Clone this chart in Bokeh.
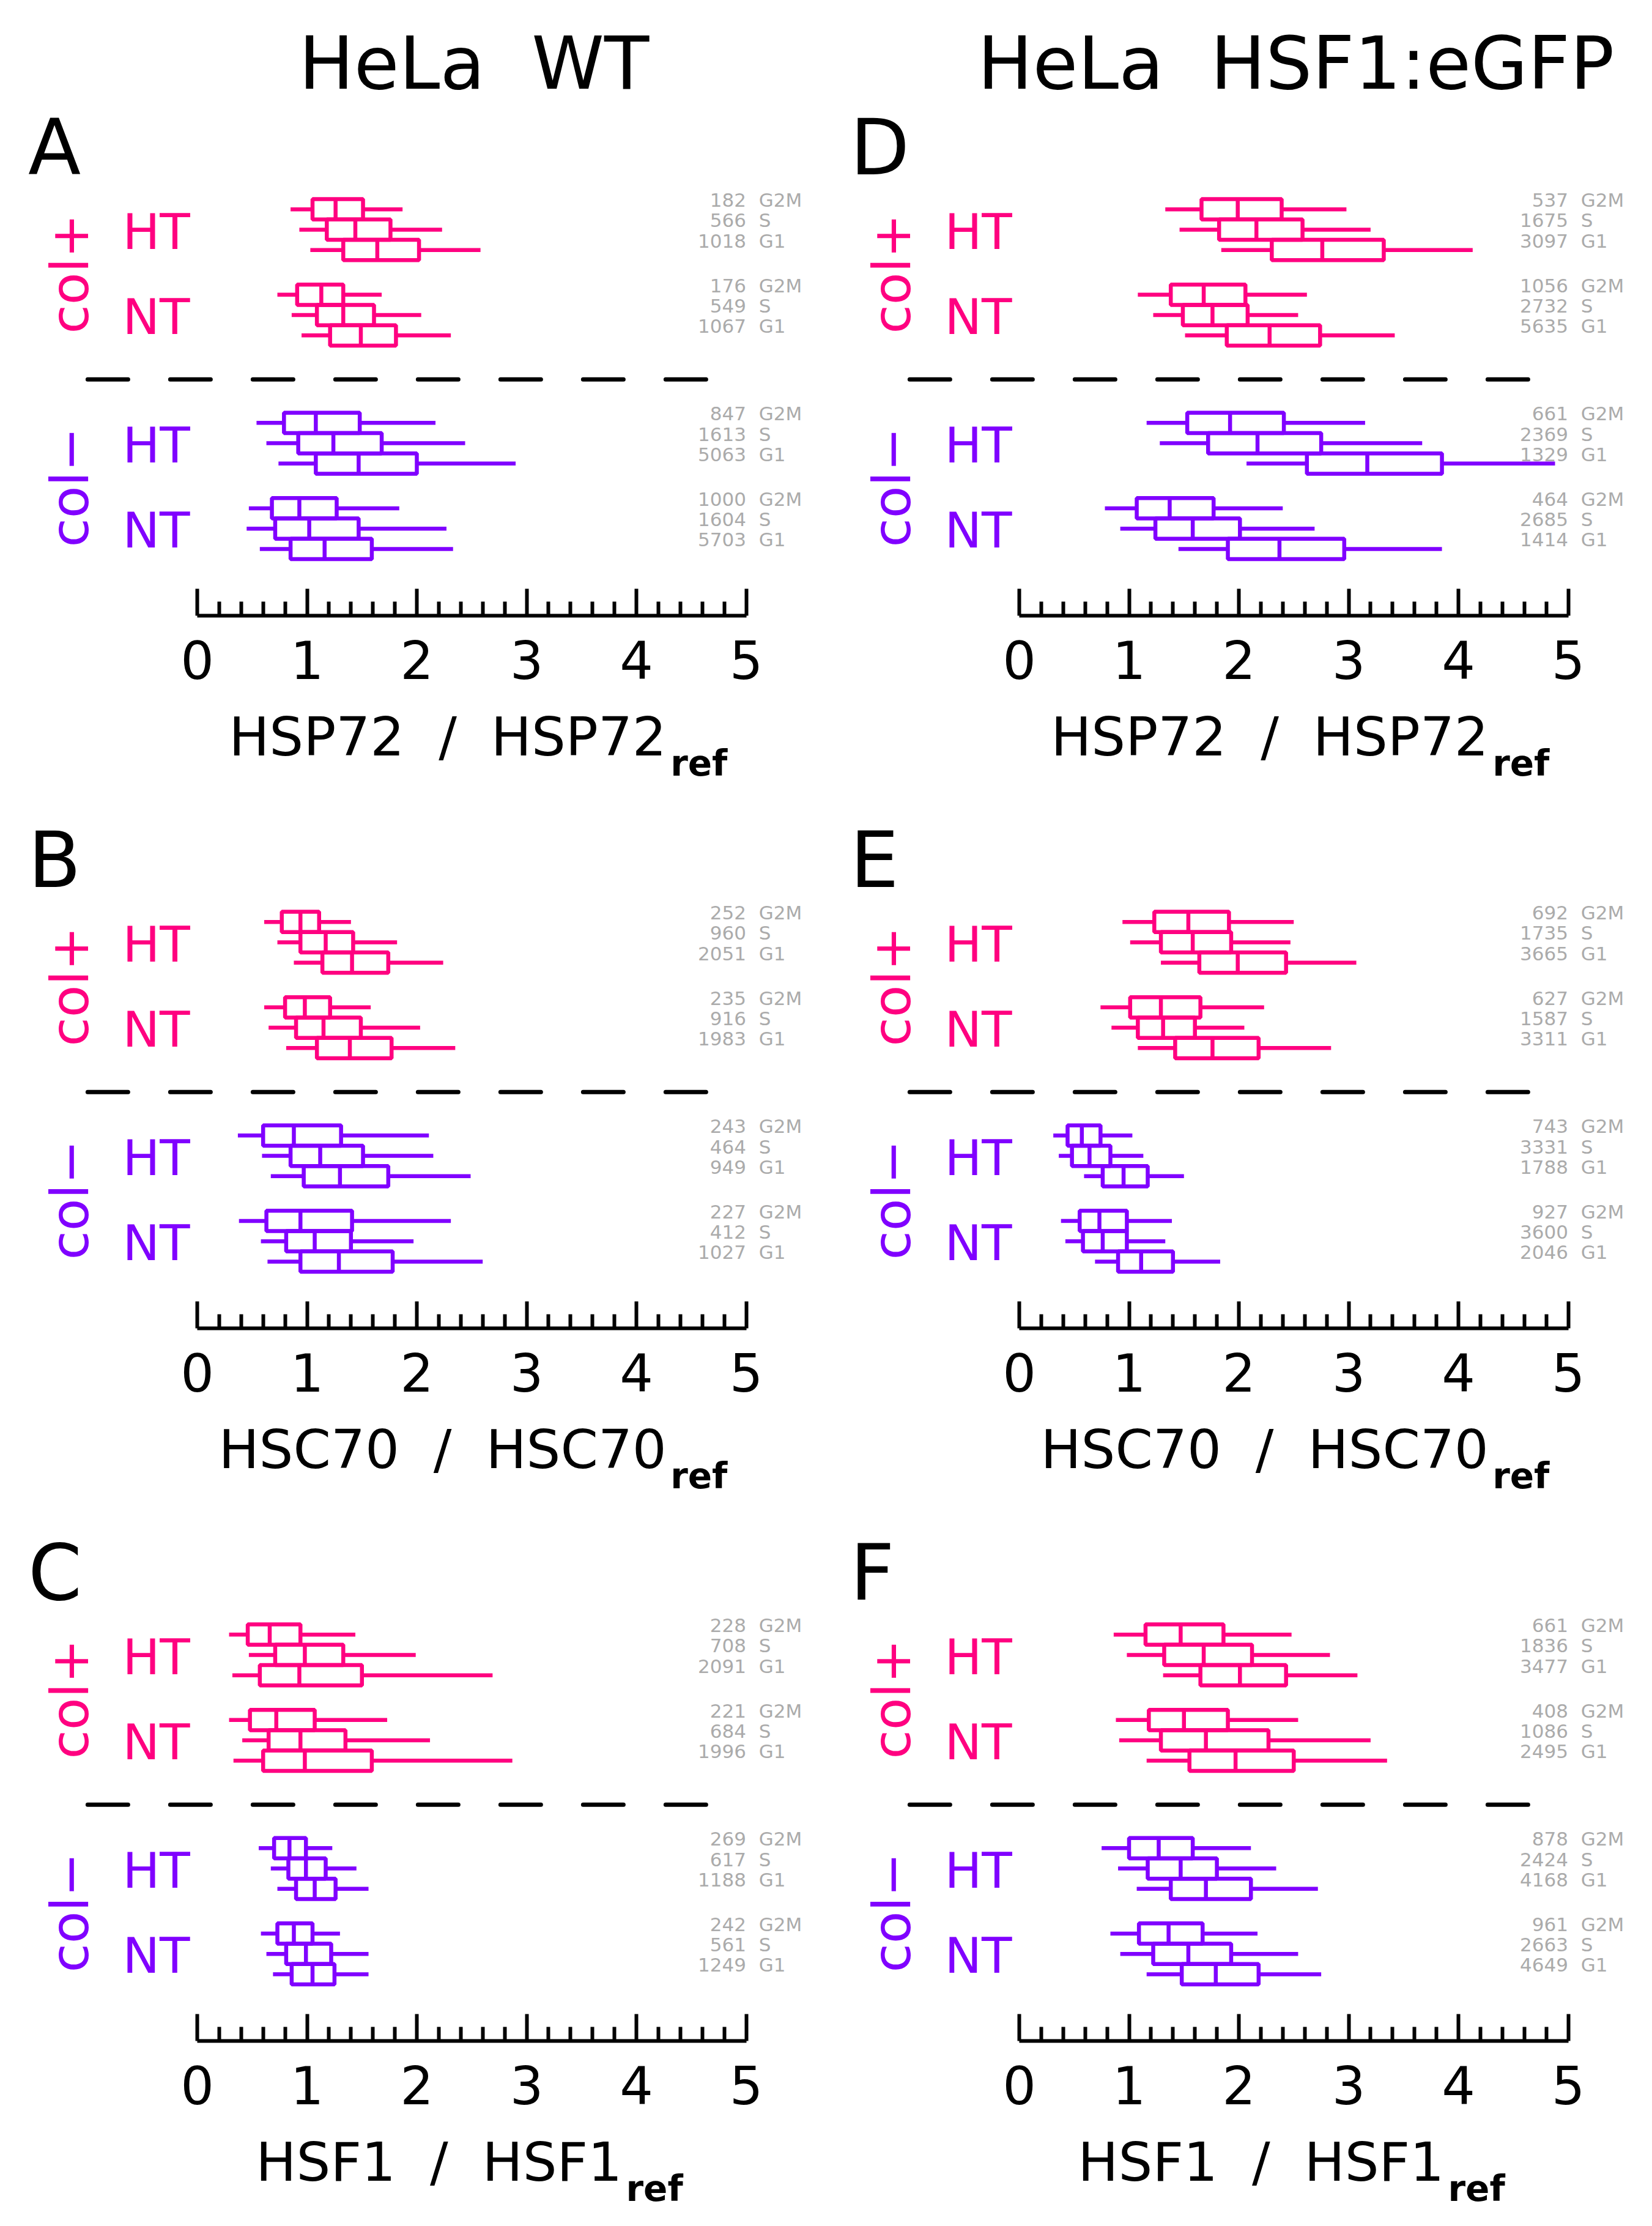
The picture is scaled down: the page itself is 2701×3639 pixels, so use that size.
import numpy as np
from bokeh.plotting import figure
from bokeh.models import ColumnDataSource, Range1d, LinearAxis, FixedTicker
from bokeh.layouts import gridplot
from bokeh.embed import file_html
from bokeh.resources import INLINE
from bokeh.core.properties import value

# ---------------- data ----------------
cell_lines = ["HeLa \u00a0WT", "HeLa \u00a0HSF1:eGFP"]
proteins = ["HSP72", "HSC70", "HSF1"]
panel_letters = [["A", "D"], ["B", "E"], ["C", "F"]]
treatments = ["col+", "col\u2212"]
conditions = ["HT", "NT"]
phases = ["G2M", "S", "G1"]
x_ticks = [0, 1, 2, 3, 4, 5]
x_minor_ticks = [0.2, 0.4, 0.6, 0.8, 1.2, 1.4, 1.6, 1.8, 2.2, 2.4, 2.6, 2.8,
                 3.2, 3.4, 3.6, 3.8, 4.2, 4.4, 4.6, 4.8]

# order of 12 entries: col+ HT (G2M,S,G1), col+ NT, col- HT, col- NT
A_low = [0.85, 0.93, 1.03, 0.73, 0.86, 0.95, 0.54, 0.63, 0.74, 0.47, 0.45, 0.57]
A_q1 = [1.05, 1.18, 1.33, 0.91, 1.09, 1.21, 0.79, 0.92, 1.08, 0.68, 0.71, 0.85]
A_med = [1.26, 1.44, 1.64, 1.13, 1.33, 1.49, 1.08, 1.24, 1.47, 0.93, 1.02, 1.16]
A_q3 = [1.51, 1.76, 2.02, 1.33, 1.61, 1.81, 1.48, 1.68, 2.00, 1.27, 1.47, 1.59]
A_high = [1.87, 2.23, 2.58, 1.68, 2.04, 2.31, 2.17, 2.44, 2.90, 1.84, 2.27, 2.33]
A_n = [182, 566, 1018, 176, 549, 1067, 847, 1613, 5063, 1000, 1604, 5703]

B_low = [0.61, 0.73, 0.88, 0.61, 0.65, 0.81, 0.37, 0.59, 0.67, 0.38, 0.58, 0.64]
B_q1 = [0.77, 0.94, 1.14, 0.80, 0.90, 1.09, 0.60, 0.85, 0.97, 0.63, 0.81, 0.94]
B_med = [0.94, 1.17, 1.41, 0.98, 1.15, 1.39, 0.88, 1.12, 1.30, 0.94, 1.07, 1.29]
B_q3 = [1.11, 1.42, 1.74, 1.21, 1.49, 1.77, 1.31, 1.51, 1.74, 1.41, 1.40, 1.78]
B_high = [1.40, 1.82, 2.24, 1.58, 2.03, 2.35, 2.11, 2.15, 2.49, 2.31, 1.97, 2.60]
B_n = [252, 960, 2051, 235, 916, 1983, 243, 464, 949, 227, 412, 1027]

C_low = [0.29, 0.47, 0.32, 0.29, 0.41, 0.33, 0.56, 0.67, 0.73, 0.58, 0.63, 0.69]
C_q1 = [0.46, 0.71, 0.57, 0.48, 0.65, 0.60, 0.70, 0.83, 0.90, 0.73, 0.81, 0.86]
C_med = [0.66, 0.98, 0.93, 0.72, 0.94, 0.98, 0.84, 0.99, 1.07, 0.88, 0.99, 1.05]
C_q3 = [0.94, 1.33, 1.50, 1.07, 1.35, 1.59, 0.99, 1.17, 1.26, 1.05, 1.22, 1.25]
C_high = [1.44, 1.99, 2.69, 1.73, 2.12, 2.87, 1.23, 1.45, 1.56, 1.30, 1.56, 1.56]
C_n = [228, 708, 2091, 221, 684, 1996, 269, 617, 1188, 242, 561, 1249]

D_low = [1.33, 1.46, 1.84, 1.08, 1.22, 1.51, 1.16, 1.28, 2.07, 0.78, 0.92, 1.45]
D_q1 = [1.66, 1.82, 2.30, 1.38, 1.49, 1.89, 1.53, 1.72, 2.62, 1.07, 1.24, 1.90]
D_med = [1.99, 2.16, 2.76, 1.68, 1.76, 2.28, 1.92, 2.17, 3.17, 1.37, 1.58, 2.37]
D_q3 = [2.39, 2.58, 3.32, 2.06, 2.08, 2.74, 2.41, 2.75, 3.85, 1.77, 2.01, 2.96]
D_high = [2.98, 3.20, 4.13, 2.62, 2.54, 3.42, 3.15, 3.67, 4.88, 2.40, 2.69, 3.85]
D_n = [537, 1675, 3097, 1056, 2732, 5635, 661, 2369, 1329, 464, 2685, 1414]

E_low = [0.94, 1.01, 1.29, 0.74, 0.84, 1.08, 0.31, 0.36, 0.59, 0.38, 0.42, 0.69]
E_q1 = [1.23, 1.29, 1.64, 1.01, 1.08, 1.42, 0.44, 0.48, 0.76, 0.55, 0.58, 0.90]
E_med = [1.54, 1.58, 1.99, 1.29, 1.31, 1.76, 0.57, 0.64, 0.95, 0.73, 0.76, 1.11]
E_q3 = [1.91, 1.93, 2.43, 1.65, 1.60, 2.18, 0.74, 0.83, 1.17, 0.98, 0.98, 1.40]
E_high = [2.50, 2.47, 3.07, 2.23, 2.05, 2.84, 1.03, 1.13, 1.50, 1.39, 1.33, 1.83]
E_n = [692, 1735, 3665, 627, 1587, 3311, 743, 3331, 1788, 927, 3600, 2046]

F_low = [0.86, 0.98, 1.31, 0.88, 0.91, 1.16, 0.75, 0.90, 1.07, 0.83, 0.92, 1.16]
F_q1 = [1.15, 1.32, 1.65, 1.18, 1.29, 1.55, 1.00, 1.17, 1.38, 1.09, 1.22, 1.48]
F_med = [1.47, 1.68, 2.01, 1.50, 1.70, 1.97, 1.27, 1.47, 1.70, 1.36, 1.54, 1.79]
F_q3 = [1.86, 2.12, 2.43, 1.90, 2.27, 2.50, 1.58, 1.80, 2.11, 1.67, 1.93, 2.18]
F_high = [2.48, 2.83, 3.08, 2.54, 3.20, 3.35, 2.11, 2.34, 2.72, 2.17, 2.54, 2.75]
F_n = [661, 1836, 3477, 408, 1086, 2495, 878, 2424, 4168, 961, 2663, 4649]

panels = {
    "A": (A_low, A_q1, A_med, A_q3, A_high, A_n),
    "B": (B_low, B_q1, B_med, B_q3, B_high, B_n),
    "C": (C_low, C_q1, C_med, C_q3, C_high, C_n),
    "D": (D_low, D_q1, D_med, D_q3, D_high, D_n),
    "E": (E_low, E_q1, E_med, E_q3, E_high, E_n),
    "F": (F_low, F_q1, F_med, F_q3, F_high, F_n),
}

# ---------------- layout / style ----------------
FONT = "DejaVu Sans"
TREAT_COLORS = ["#ff0080", "#8000ff"]
GRAY = "#ababab"
BOTTOM = 140
FRAME_HEIGHTS = [1006, 871, 871]
PANEL_HEIGHTS = [h + BOTTOM for h in FRAME_HEIGHTS]
LABEL_H = 294 - BOTTOM
FIG_W = 1344
PX_PER_X = 179.5
X0_PX = 322
ROW_PX = 33.25
Y_AXIS = 19.98
GROUP_BASE = [0.0, 4.2, 10.5, 14.7]     # col+HT, col+NT, col-HT, col-NT
SEP_Y = 8.36
LABEL_JUNCTION = {"HSP72": 4.275, "HSC70": 4.275, "HSF1": 3.87}
LABEL_BASE = 1230 - 1006 - BOTTOM
REF_BASE = 1265 - 1006 - BOTTOM
LW = 6.5
BASE_SHIFT = 0.30   # baseline correction (em)


def fy(y, size_px):
    return y - BASE_SHIFT * size_px / ROW_PX


def x_range():
    s = -X0_PX / PX_PER_X
    return Range1d(s, s + FIG_W / PX_PER_X)


def make_panel(row_i, col_i):
    letter = panel_letters[row_i][col_i]
    low, q1, med, q3, high, n = panels[letter]
    frame_h = FRAME_HEIGHTS[row_i]
    y_top = Y_AXIS - frame_h / ROW_PX

    p = figure(width=FIG_W, height=PANEL_HEIGHTS[row_i],
               x_range=x_range(), y_range=Range1d(Y_AXIS, y_top),
               output_backend="svg", toolbar_location=None,
               x_axis_location=None, y_axis_location=None,
               min_border_left=0, min_border_right=0, min_border_top=0,
               min_border_bottom=BOTTOM)
    p.outline_line_color = None
    p.grid.visible = False

    ax = LinearAxis(bounds=(0, 5), ticker=FixedTicker(ticks=x_ticks, minor_ticks=x_minor_ticks))
    ax.axis_line_width = 6
    ax.axis_line_color = "black"
    ax.major_tick_line_width = 6
    ax.minor_tick_line_width = 6
    ax.major_tick_line_color = "black"
    ax.minor_tick_line_color = "black"
    ax.major_tick_in = 44
    ax.major_tick_out = 0
    ax.minor_tick_in = 23
    ax.minor_tick_out = 0
    ax.major_label_text_font = FONT
    ax.major_label_text_font_size = "86px"
    ax.major_label_text_color = "black"
    ax.major_label_standoff = 40
    p.add_layout(ax, "below")

    ys, colors = [], []
    for g in range(4):
        for k in range(len(phases)):
            ys.append(GROUP_BASE[g] + k)
            colors.append(TREAT_COLORS[g // 2])
    ys = np.array(ys)
    src = ColumnDataSource(dict(y=ys, top=ys - 0.5, bottom=ys + 0.5, low=low, q1=q1,
                                med=med, q3=q3, high=high, color=colors,
                                n=[str(v) for v in n],
                                phase=phases * 4, ty=fy(ys - 0.17, 31)))

    p.segment(x0="low", x1="q1", y0="y", y1="y", source=src, line_color="color", line_width=LW)
    p.segment(x0="q3", x1="high", y0="y", y1="y", source=src, line_color="color", line_width=LW)
    p.quad(left="q1", right="q3", top="top", bottom="bottom", source=src,
           fill_color=None, line_color="color", line_width=LW)
    p.segment(x0="med", x1="med", y0="top", y1="bottom", source=src, line_color="color", line_width=LW)

    # cell counts
    p.text(x=5.0, y="ty", text="n", source=src, text_align="right", text_baseline="alphabetic",
           text_font=value(FONT), text_font_size=value("31px"), text_color=GRAY)
    p.text(x=5.115, y="ty", text="phase", source=src, text_align="left", text_baseline="alphabetic",
           text_font=value(FONT), text_font_size=value("31px"), text_color=GRAY)

    # separator
    p.segment(x0=[-0.998], x1=[4.65], y0=[SEP_Y], y1=[SEP_Y], line_color="black", line_width=7,
              line_dash="66 69", line_cap="round")

    # condition labels
    cond_src = ColumnDataSource(dict(
        x=[-0.68] * 4, y=[fy(b + 1.83, 81) for b in GROUP_BASE],
        text=conditions * 2, color=[TREAT_COLORS[0]] * 2 + [TREAT_COLORS[1]] * 2))
    p.text(x="x", y="y", text="text", source=cond_src, text_color="color",
           text_align="left", text_baseline="alphabetic",
           text_font=value(FONT), text_font_size=value("81px"))

    # treatment labels (rotated)
    tx = -1.02 - BASE_SHIFT * 86 / PX_PER_X
    tr_src = ColumnDataSource(dict(
        x=[tx, tx], y=[GROUP_BASE[0] + 3.17, GROUP_BASE[2] + 3.17],
        text=treatments, color=TREAT_COLORS))
    p.text(x="x", y="y", text="text", source=tr_src, text_color="color", angle=np.pi / 2,
           text_align="center", text_baseline="alphabetic",
           text_font=value(FONT), text_font_size=value("86px"))

    # panel letter
    p.text(x=[-1.54], y=[fy(-1.89, 126)], text=[letter], text_align="left",
           text_baseline="alphabetic", text_font=value(FONT),
           text_font_size=value("126px"), text_color="black")

    # column title
    if row_i == 0:
        p.text(x=[2.52], y=[fy(-6.094, 120)], text=[cell_lines[col_i]], text_align="center",
               text_baseline="alphabetic", text_font=value(FONT),
               text_font_size=value("120px"), text_color="black")
    return p


def make_label(row_i):
    protein = proteins[row_i]
    p = figure(width=FIG_W, height=LABEL_H, x_range=x_range(),
               y_range=Range1d(LABEL_H, 0),
               output_backend="svg", toolbar_location=None,
               x_axis_location=None, y_axis_location=None,
               min_border_left=0, min_border_right=0, min_border_top=0,
               min_border_bottom=0)
    p.outline_line_color = None
    p.grid.visible = False
    j = LABEL_JUNCTION[protein]
    p.text(x=[j], y=[LABEL_BASE - BASE_SHIFT * 88], text=[protein + " \u00a0/\u00a0 " + protein],
           text_align="right", text_baseline="alphabetic", text_font=value(FONT),
           text_font_size=value("88px"), text_color="black")
    p.text(x=[j + 0.035], y=[REF_BASE - BASE_SHIFT * 58], text=["ref"],
           text_align="left", text_baseline="alphabetic", text_font=value(FONT),
           text_font_size=value("58px"), text_font_style="bold", text_color="black")
    return p


rows = []
for r in range(3):
    rows.append([make_panel(r, c) for c in range(2)])
    rows.append([make_label(r) for c in range(2)])

grid = gridplot(rows, toolbar_location=None)

open("out.html", "w").write(file_html(grid, INLINE))
